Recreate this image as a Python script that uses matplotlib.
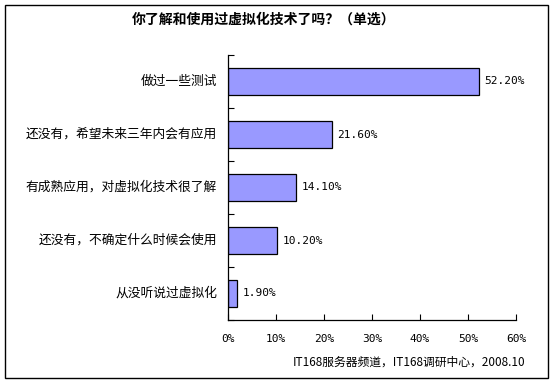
import matplotlib
matplotlib.use("Agg")
import matplotlib.pyplot as plt
from matplotlib.patches import Rectangle

categories = ["做过一些测试", "还没有，希望未来三年内会有应用", "有成熟应用，对虚拟化技术很了解",
              "还没有，不确定什么时候会使用", "从没听说过虚拟化"]
values = [52.2, 21.6, 14.1, 10.2, 1.9]
value_labels = ["52.20%", "21.60%", "14.10%", "10.20%", "1.90%"]
xticks = [0, 10, 20, 30, 40, 50, 60]
xtick_labels = ["0%", "10%", "20%", "30%", "40%", "50%", "60%"]
title = "你了解和使用过虚拟化技术了吗？（单选）"
source = "IT168服务器频道，IT168调研中心，2008.10"

plt.rcParams['font.family'] = ['Noto Sans CJK SC', 'DejaVu Sans']

fig = plt.figure(figsize=(5.55, 3.84), dpi=100)
fig.patch.set_facecolor("white")
fig.patches.append(Rectangle((5/555, 1-378/384), 543/555, 373/384, transform=fig.transFigure,
                             fill=False, edgecolor="black", linewidth=1.0))

ax = fig.add_axes([228/555, 1-320/384, 288/555, 265/384])
ypos = list(range(len(categories)))
ax.barh(ypos, values, height=0.5, color="#9999FF", edgecolor="black", linewidth=0.9)
ax.set_ylim(len(categories)-0.5, -0.5)
ax.set_xlim(0, 60)

for y, v, lab in zip(ypos, values, value_labels):
    ax.annotate(lab, (v, y), xytext=(4, 0), textcoords="offset points",
                ha="left", va="center", fontsize=8, family=["DejaVu Sans Mono"])

ax.set_xticks(xticks)
ax.set_xticklabels(xtick_labels, fontsize=8, family=["DejaVu Sans Mono"])
ax.tick_params(axis="x", direction="in", length=4, pad=10, width=0.8)

ax.set_yticks([i - 0.5 for i in range(len(categories)+1)], minor=False)
ax.set_yticklabels([])
ax.tick_params(axis="y", direction="in", length=4, width=0.8)
for y, c in zip(ypos, categories):
    ax.text(-11/4.8, y, c, ha="right", va="center", fontsize=9.2)

for s in ["top", "right"]:
    ax.spines[s].set_visible(False)
for s in ["left", "bottom"]:
    ax.spines[s].set_linewidth(0.9)

fig.text(264/555, 1-20/384, title, ha="center", va="center", fontsize=10, fontweight="bold")
fig.text(525/555, 1-362/384, source, ha="right", va="center", fontsize=8.5)

fig.savefig("out.png", dpi=100)
